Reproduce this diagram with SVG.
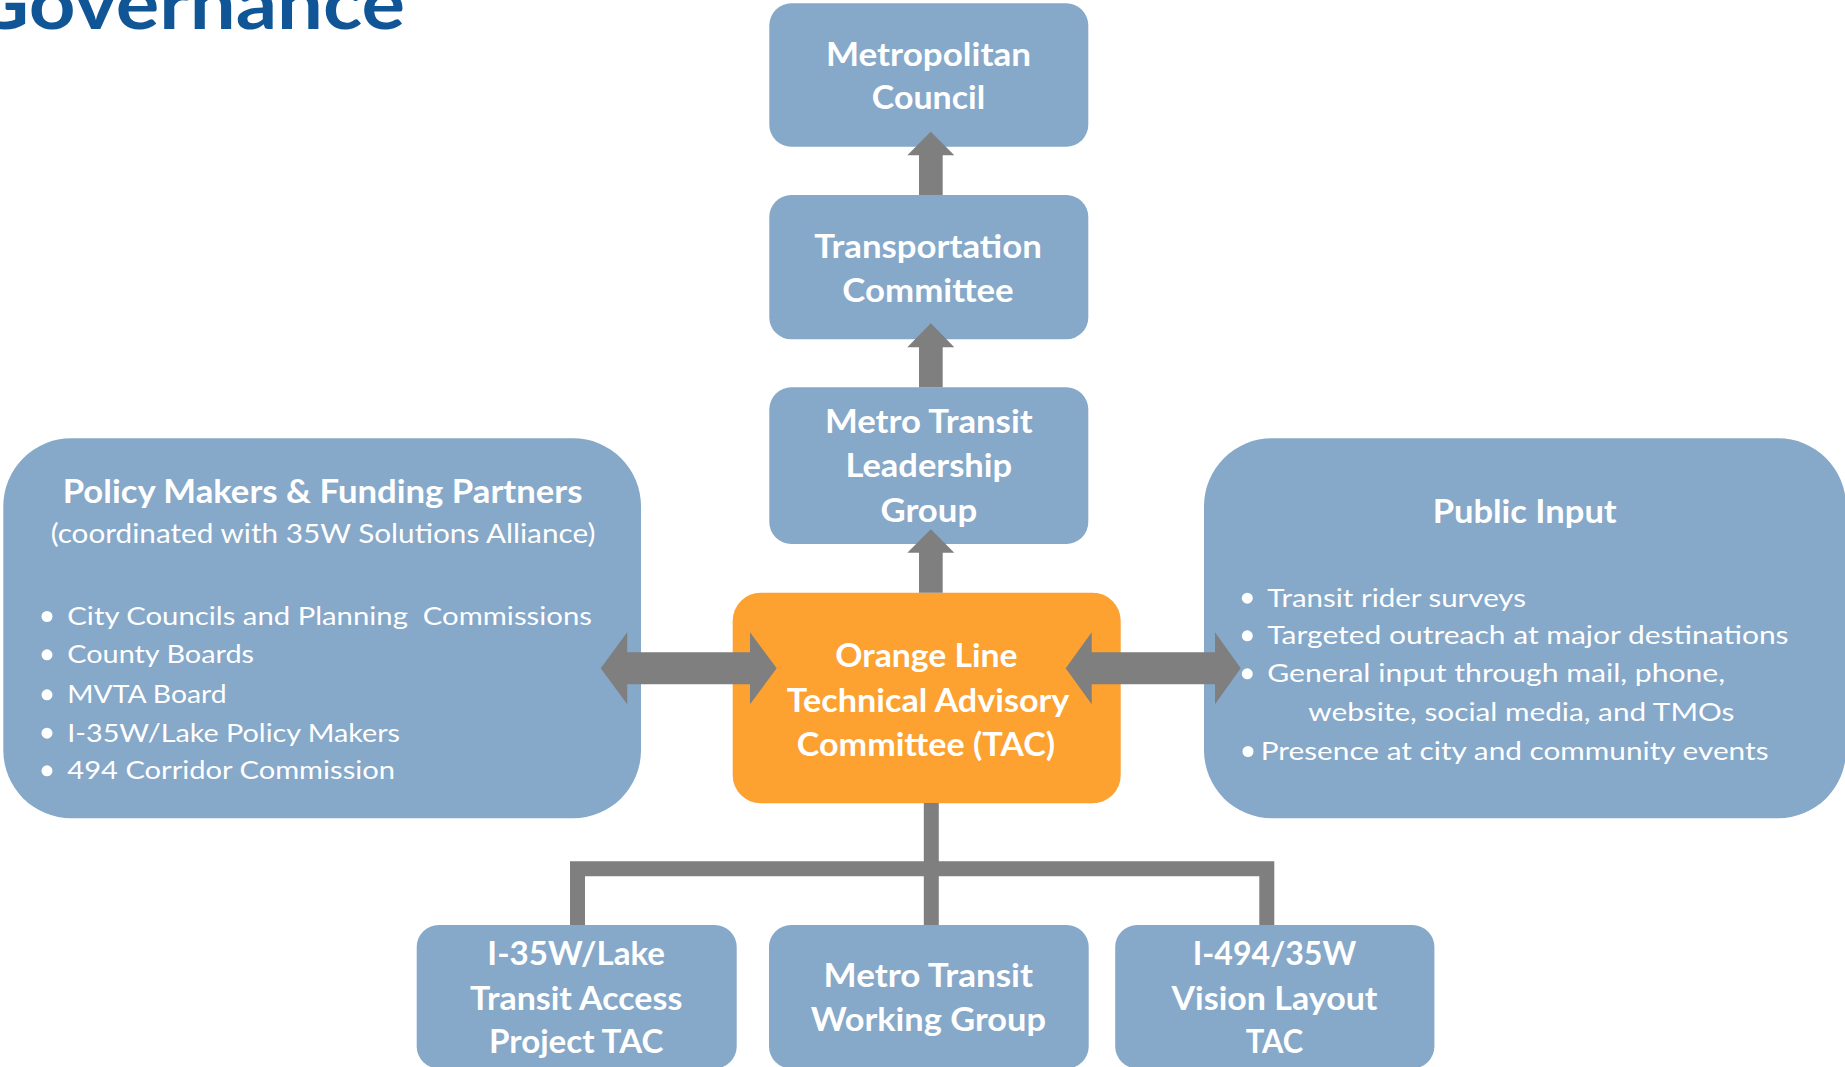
<svg xmlns="http://www.w3.org/2000/svg" width="1845" height="1067" viewBox="0 0 1845 1067">
<style>
.box{fill:#86A8C9}
.tac{fill:#FDA130}
.t{font-family:Lato,"Liberation Sans",sans-serif;fill:#ffffff}
.lbl{font-weight:bold;font-size:32.5px;text-anchor:middle}
.sub{font-size:26.5px;text-anchor:middle}
.item{font-size:25.5px}
.dot{fill:#ffffff}
.conn{fill:#7F7F7F}
.line{fill:none;stroke:#7F7F7F;stroke-width:15;stroke-linejoin:miter}
.title{font-family:Lato,"Liberation Sans",sans-serif;font-weight:bold;font-size:73px;fill:#105596}
</style>
<rect width="1845" height="1067" fill="#ffffff"/>
<text class="title" x="-30" y="29.3" textLength="435" lengthAdjust="spacingAndGlyphs">Governance</text>

<g id="metropolitan-council">
<rect class="box" x="769.3" y="3.3" width="319" height="143.4" rx="22"/>
<text class="t lbl" x="928.5" y="65.7" textLength="205" lengthAdjust="spacingAndGlyphs">Metropolitan</text>
<text class="t lbl" x="928.5" y="109.3" textLength="113.3" lengthAdjust="spacingAndGlyphs">Council</text>
</g>

<g id="transportation-committee">
<rect class="box" x="769.3" y="195" width="319" height="144.3" rx="22"/>
<text class="t lbl" x="928" y="258.3" textLength="227.7" lengthAdjust="spacingAndGlyphs">Transportation</text>
<text class="t lbl" x="928" y="301.7" textLength="171.3" lengthAdjust="spacingAndGlyphs">Committee</text>
</g>

<g id="mt-leadership-group">
<rect class="box" x="769.3" y="387.3" width="319" height="156.7" rx="22"/>
<text class="t lbl" x="928.8" y="432.7" textLength="207.7" lengthAdjust="spacingAndGlyphs">Metro Transit</text>
<text class="t lbl" x="928.8" y="476.7" textLength="166.7" lengthAdjust="spacingAndGlyphs">Leadership</text>
<text class="t lbl" x="928.8" y="521.7" textLength="96.7" lengthAdjust="spacingAndGlyphs">Group</text>
</g>

<g id="policy-makers">
<rect class="box" x="3.3" y="438.3" width="637.7" height="380" rx="68"/>
<text class="t lbl" x="322.6" y="503.3" textLength="519.8" lengthAdjust="spacingAndGlyphs">Policy Makers &amp; Funding Partners</text>
<text class="t sub" x="323" y="543.3" textLength="544.7" lengthAdjust="spacingAndGlyphs">(coordinated with 35W Solutions Alliance)</text>
<circle class="dot" cx="47" cy="616.5" r="5.5"/>
<circle class="dot" cx="47" cy="654.8" r="5.5"/>
<circle class="dot" cx="47" cy="694.8" r="5.5"/>
<circle class="dot" cx="47" cy="733.2" r="5.5"/>
<circle class="dot" cx="47" cy="770.8" r="5.5"/>
<text class="t item" x="67.3" y="625" textLength="524.6" lengthAdjust="spacingAndGlyphs" xml:space="preserve">City Councils and Planning  Commissions</text>
<text class="t item" x="67.3" y="663.3" textLength="186.7" lengthAdjust="spacingAndGlyphs">County Boards</text>
<text class="t item" x="67.3" y="703.3" textLength="159.3" lengthAdjust="spacingAndGlyphs">MVTA Board</text>
<text class="t item" x="67.3" y="741.7" textLength="332.7" lengthAdjust="spacingAndGlyphs">I-35W/Lake Policy Makers</text>
<text class="t item" x="67.3" y="779.3" textLength="327.7" lengthAdjust="spacingAndGlyphs">494 Corridor Commission</text>
</g>

<g id="public-input">
<rect class="box" x="1204" y="438.3" width="642" height="380" rx="68"/>
<text class="t lbl" x="1524.7" y="523.3" textLength="184" lengthAdjust="spacingAndGlyphs">Public Input</text>
<circle class="dot" cx="1247.3" cy="598.2" r="5.5"/>
<circle class="dot" cx="1247.3" cy="635.8" r="5.5"/>
<circle class="dot" cx="1247.3" cy="673.8" r="5.5"/>
<circle class="dot" cx="1248" cy="751.5" r="5.5"/>
<text class="t item" x="1267.3" y="606.7" textLength="258.7" lengthAdjust="spacingAndGlyphs">Transit rider surveys</text>
<text class="t item" x="1267.3" y="644.3" textLength="521.3" lengthAdjust="spacingAndGlyphs">Targeted outreach at major destinations</text>
<text class="t item" x="1267.3" y="682.3" textLength="457.8" lengthAdjust="spacingAndGlyphs">General input through mail, phone,</text>
<text class="t item" x="1308.3" y="721" textLength="426.2" lengthAdjust="spacingAndGlyphs">website, social media, and TMOs</text>
<text class="t item" x="1260.7" y="760" textLength="507.9" lengthAdjust="spacingAndGlyphs">Presence at city and community events</text>
</g>

<g id="orange-line-tac">
<rect class="tac" x="732.7" y="592.7" width="388" height="210.6" rx="28"/>
<text class="t lbl" x="926.5" y="666.7" textLength="182.3" lengthAdjust="spacingAndGlyphs">Orange Line</text>
<text class="t lbl" x="928" y="711.7" textLength="282.6" lengthAdjust="spacingAndGlyphs">Technical Advisory</text>
<text class="t lbl" x="926" y="756" textLength="258.3" lengthAdjust="spacingAndGlyphs">Committee (TAC)</text>
</g>

<g id="i35w-lake-tac">
<rect class="box" x="416.7" y="925" width="320" height="143.4" rx="22"/>
<text class="t lbl" x="576.2" y="965" textLength="177.7" lengthAdjust="spacingAndGlyphs">I-35W/Lake</text>
<text class="t lbl" x="576.2" y="1010" textLength="212.3" lengthAdjust="spacingAndGlyphs">Transit Access</text>
<text class="t lbl" x="576.2" y="1053.3" textLength="174.3" lengthAdjust="spacingAndGlyphs">Project TAC</text>
</g>

<g id="mt-working-group">
<rect class="box" x="769" y="925" width="319.7" height="143.4" rx="22"/>
<text class="t lbl" x="928.3" y="986.7" textLength="209.4" lengthAdjust="spacingAndGlyphs">Metro Transit</text>
<text class="t lbl" x="928.3" y="1031" textLength="235.3" lengthAdjust="spacingAndGlyphs">Working Group</text>
</g>

<g id="i494-35w-tac">
<rect class="box" x="1115.2" y="925" width="319.2" height="143.4" rx="22"/>
<text class="t lbl" x="1274.5" y="965" textLength="163.6" lengthAdjust="spacingAndGlyphs">I-494/35W</text>
<text class="t lbl" x="1274.5" y="1010" textLength="206" lengthAdjust="spacingAndGlyphs">Vision Layout</text>
<text class="t lbl" x="1274.5" y="1053" textLength="57.5" lengthAdjust="spacingAndGlyphs">TAC</text>
</g>

<g id="connectors">
<polygon class="conn" points="930.8,131.7 954.3,155.3 942.7,155.3 942.7,195 919,195 919,155.3 907.3,155.3"/>
<polygon class="conn" points="930.8,323.3 954.3,347.3 942.7,347.3 942.7,387.3 919,387.3 919,347.3 907.3,347.3"/>
<polygon class="conn" points="930.8,529.3 954.3,552.7 942.7,552.7 942.7,592.7 919,592.7 919,552.7 907.3,552.7"/>
<polygon class="conn" points="600.7,668.3 627.2,632.3 627.2,652.3 750,652.3 750,632.3 776.7,668.3 750,704.3 750,684.3 627.2,684.3 627.2,704.3"/>
<polygon class="conn" points="1065.7,668.3 1091.7,632.3 1091.7,652.3 1215,652.3 1215,632.3 1240.7,668.3 1215,704.3 1215,684.3 1091.7,684.3 1091.7,704.3"/>
<path class="line" d="M577.5,925 V868.8 H1266.8 V925"/>
<path class="line" d="M931.3,803 V925"/>
</g>
</svg>
